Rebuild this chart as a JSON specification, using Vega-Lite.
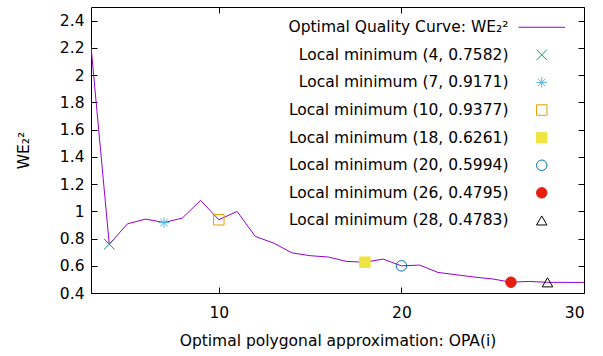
{
  "$schema": "https://vega.github.io/schema/vega-lite/v6.json",
  "width": 493,
  "height": 286,
  "autosize": {"type": "none"},
  "padding": {"left": 91, "top": 7, "right": 19, "bottom": 63},
  "background": "white",
  "config": {
    "font": "DejaVu Sans",
    "view": {"stroke": null},
    "axis": {
      "domainColor": "black", "tickColor": "black", "domainWidth": 1, "tickWidth": 1,
      "labelFont": "DejaVu Sans", "labelFontSize": 15.5, "labelColor": "black",
      "titleFont": "DejaVu Sans", "titleFontSize": 15.5, "titleFontWeight": "normal", "titleColor": "black",
      "grid": false, "tickSize": -6
    },
    "legend": {
      "labelFont": "DejaVu Sans", "labelFontSize": 15.5, "labelColor": "black"
    }
  },
  "datasets": {
    "curve": [
      {"x": 3, "y": 2.21, "series": "Optimal Quality Curve: WE₂²"},
      {"x": 4, "y": 0.7582, "series": "Optimal Quality Curve: WE₂²"},
      {"x": 5, "y": 0.908, "series": "Optimal Quality Curve: WE₂²"},
      {"x": 6, "y": 0.943, "series": "Optimal Quality Curve: WE₂²"},
      {"x": 7, "y": 0.9171, "series": "Optimal Quality Curve: WE₂²"},
      {"x": 8, "y": 0.95, "series": "Optimal Quality Curve: WE₂²"},
      {"x": 9, "y": 1.08, "series": "Optimal Quality Curve: WE₂²"},
      {"x": 10, "y": 0.9377, "series": "Optimal Quality Curve: WE₂²"},
      {"x": 11, "y": 0.999, "series": "Optimal Quality Curve: WE₂²"},
      {"x": 12, "y": 0.815, "series": "Optimal Quality Curve: WE₂²"},
      {"x": 13, "y": 0.767, "series": "Optimal Quality Curve: WE₂²"},
      {"x": 14, "y": 0.695, "series": "Optimal Quality Curve: WE₂²"},
      {"x": 15, "y": 0.674, "series": "Optimal Quality Curve: WE₂²"},
      {"x": 16, "y": 0.664, "series": "Optimal Quality Curve: WE₂²"},
      {"x": 17, "y": 0.632, "series": "Optimal Quality Curve: WE₂²"},
      {"x": 18, "y": 0.6261, "series": "Optimal Quality Curve: WE₂²"},
      {"x": 19, "y": 0.649, "series": "Optimal Quality Curve: WE₂²"},
      {"x": 20, "y": 0.5994, "series": "Optimal Quality Curve: WE₂²"},
      {"x": 21, "y": 0.605, "series": "Optimal Quality Curve: WE₂²"},
      {"x": 22, "y": 0.551, "series": "Optimal Quality Curve: WE₂²"},
      {"x": 23, "y": 0.534, "series": "Optimal Quality Curve: WE₂²"},
      {"x": 24, "y": 0.517, "series": "Optimal Quality Curve: WE₂²"},
      {"x": 25, "y": 0.503, "series": "Optimal Quality Curve: WE₂²"},
      {"x": 26, "y": 0.4795, "series": "Optimal Quality Curve: WE₂²"},
      {"x": 27, "y": 0.485, "series": "Optimal Quality Curve: WE₂²"},
      {"x": 28, "y": 0.4783, "series": "Optimal Quality Curve: WE₂²"},
      {"x": 29, "y": 0.478, "series": "Optimal Quality Curve: WE₂²"},
      {"x": 30, "y": 0.478, "series": "Optimal Quality Curve: WE₂²"}
    ],
    "minima": [
      {"x": 4, "y": 0.7582, "series": "Local minimum (4, 0.7582)"},
      {"x": 7, "y": 0.9171, "series": "Local minimum (7, 0.9171)"},
      {"x": 10, "y": 0.9377, "series": "Local minimum (10, 0.9377)"},
      {"x": 18, "y": 0.6261, "series": "Local minimum (18, 0.6261)"},
      {"x": 20, "y": 0.5994, "series": "Local minimum (20, 0.5994)"},
      {"x": 26, "y": 0.4795, "series": "Local minimum (26, 0.4795)"},
      {"x": 28, "y": 0.4783, "series": "Local minimum (28, 0.4783)"}
    ]
  },
  "layer": [
    {
      "data": {"name": "curve"},
      "mark": {"type": "line", "strokeWidth": 1, "clip": true},
      "encoding": {
        "x": {"field": "x", "type": "quantitative",
              "scale": {"domain": [3, 30], "nice": false, "zero": false},
              "axis": {"orient": "bottom", "values": [10, 20, 30], "title": "Optimal polygonal approximation: OPA(i)", "labelPadding": 18, "titlePadding": 13}},
        "y": {"field": "y", "type": "quantitative",
              "scale": {"domain": [0.4, 2.5], "nice": false, "zero": false},
              "axis": {"orient": "left", "values": [0.4, 0.6, 0.8, 1, 1.2, 1.4, 1.6, 1.8, 2, 2.2, 2.4], "format": "~g", "title": "WE₂²", "labelPadding": 13, "titlePadding": 28}},
        "stroke": {"field": "series", "type": "nominal",
          "scale": {
            "domain": ["Optimal Quality Curve: WE₂²", "Local minimum (4, 0.7582)", "Local minimum (7, 0.9171)", "Local minimum (10, 0.9377)", "Local minimum (18, 0.6261)", "Local minimum (20, 0.5994)", "Local minimum (26, 0.4795)", "Local minimum (28, 0.4783)"],
            "range": ["#9400D3", "#009E73", "#56B4E9", "#E69F00", "#F0E442", "#0072B2", "#E51E10", "#000000"]
          },
          "legend": {
            "title": null, "orient": "none", "legendX": 152, "legendY": 12.5,
            "symbolSize": 110, "symbolStrokeWidth": 1, "rowPadding": 10.6, "padding": 0,
            "labelAlign": "right", "labelOffset": -41, "symbolOffset": 291, "labelLimit": 400,
            "encode": {
              "symbols": {"update": {
                "size": {"signal": "datum.value === 'Optimal Quality Curve: WE₂²' ? 2170 : 110"},
                "opacity": {"value": 1}
              }}
            }
          }
        }
      }
    },
    {
      "data": {"name": "minima"},
      "mark": {"type": "point", "size": 110, "strokeWidth": 1, "opacity": 1},
      "encoding": {
        "x": {"field": "x", "type": "quantitative",
              "axis": {"orient": "top", "values": [10, 20, 30], "labels": false, "title": null}},
        "y": {"field": "y", "type": "quantitative",
              "axis": {"orient": "right", "values": [0.4, 0.6, 0.8, 1, 1.2, 1.4, 1.6, 1.8, 2, 2.2, 2.4], "labels": false, "title": null}},
        "stroke": {"field": "series", "type": "nominal"},
        "fill": {"field": "series", "type": "nominal",
          "scale": {
            "domain": ["Optimal Quality Curve: WE₂²", "Local minimum (4, 0.7582)", "Local minimum (7, 0.9171)", "Local minimum (10, 0.9377)", "Local minimum (18, 0.6261)", "Local minimum (20, 0.5994)", "Local minimum (26, 0.4795)", "Local minimum (28, 0.4783)"],
            "range": ["transparent", "transparent", "transparent", "transparent", "#F0E442", "transparent", "#E51E10", "transparent"]
          }
        },
        "shape": {"field": "series", "type": "nominal",
          "scale": {
            "domain": ["Optimal Quality Curve: WE₂²", "Local minimum (4, 0.7582)", "Local minimum (7, 0.9171)", "Local minimum (10, 0.9377)", "Local minimum (18, 0.6261)", "Local minimum (20, 0.5994)", "Local minimum (26, 0.4795)", "Local minimum (28, 0.4783)"],
            "range": ["stroke", "M-1,-1L1,1M-1,1L1,-1", "M-1,0L1,0M0,-1L0,1M-0.72,-0.72L0.72,0.72M-0.72,0.72L0.72,-0.72", "square", "square", "circle", "circle", "triangle-up"]
          }
        }
      }
    }
  ],
  "resolve": {"axis": {"x": "independent", "y": "independent"}}
}
